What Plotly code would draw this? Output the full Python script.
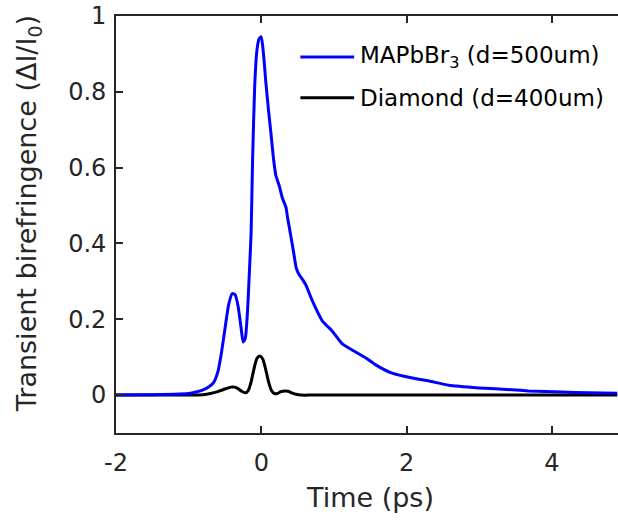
import plotly.graph_objects as go

# ---- data ----
t_mapbbr = [-2.0, -1.5, -1.2, -1.0, -0.9, -0.8, -0.72, -0.66, -0.6, -0.55, -0.5, -0.45,
            -0.4, -0.36, -0.32, -0.28, -0.25, -0.22, -0.19, -0.165, -0.14, -0.12, -0.09,
            -0.06, -0.03, 0.0, 0.03, 0.065, 0.10, 0.133, 0.17, 0.20, 0.25, 0.29, 0.34,
            0.36, 0.41, 0.45, 0.48, 0.52, 0.55, 0.61, 0.70, 0.84, 0.98, 1.11, 1.25, 1.44,
            1.58, 1.80, 2.08, 2.31, 2.58, 3.0, 3.45, 3.68, 4.14, 4.5, 4.9]
v_mapbbr = [0.0, 0.001, 0.002, 0.004, 0.008, 0.014, 0.022, 0.032, 0.06, 0.11, 0.175, 0.238,
            0.268, 0.265, 0.235, 0.18, 0.14, 0.15, 0.22, 0.32, 0.43, 0.62, 0.82,
            0.91, 0.94, 0.945, 0.90, 0.82, 0.75, 0.69, 0.62, 0.58, 0.55, 0.52, 0.495,
            0.47, 0.416, 0.37, 0.336, 0.318, 0.31, 0.292, 0.25, 0.196, 0.168, 0.136, 0.119, 0.098,
            0.079, 0.058, 0.045, 0.037, 0.026, 0.019, 0.014, 0.011, 0.008, 0.006, 0.005]

t_diamond = [-2.0, -1.0, -0.8, -0.7, -0.6, -0.5, -0.42, -0.37, -0.32, -0.27, -0.22, -0.18,
             -0.14, -0.10, -0.06, -0.02, 0.02, 0.06, 0.10, 0.14, 0.18, 0.22, 0.27, 0.32,
             0.37, 0.42, 0.48, 0.55, 0.7, 1.0, 2.0, 3.0, 4.9]
v_diamond = [0.0, 0.0, 0.001, 0.004, 0.009, 0.016, 0.021, 0.021, 0.017, 0.01, 0.006, 0.012,
             0.035, 0.07, 0.097, 0.103, 0.095, 0.068, 0.035, 0.012, 0.004, 0.004, 0.009, 0.011,
             0.01, 0.006, 0.002, 0.0, 0.0, 0.0, 0.0, 0.0, 0.0]

x_ticks = [-2, 0, 2, 4]
y_ticks = [0, 0.2, 0.4, 0.6, 0.8, 1]
y_ticklabels = ["0", "0.2", "0.4", "0.6", "0.8", "1"]
legend_names = ["MAPbBr<sub>3</sub> (d=500um)", "Diamond (d=400um)"]
colors = ["#0000FF", "#000000"]

FONT = "DejaVu Sans"
TXT = "#262626"

fig = go.Figure()
fig.add_trace(go.Scatter(x=t_diamond, y=v_diamond, mode="lines",
                         line=dict(color=colors[1], width=3, shape="spline", smoothing=0.6),
                         showlegend=False))
fig.add_trace(go.Scatter(x=t_mapbbr, y=v_mapbbr, mode="lines",
                         line=dict(color=colors[0], width=3, shape="spline", smoothing=0.5),
                         showlegend=False))

axis_common = dict(showgrid=False, zeroline=False, showline=True, linecolor=TXT, linewidth=1.8,
                   ticks="inside", ticklen=7, tickwidth=1.5, tickcolor=TXT,
                   tickfont=dict(family=FONT, size=24, color=TXT))

fig.update_xaxes(range=[-2, 4.91], tickvals=x_ticks, ticktext=[str(v) for v in x_ticks],
                 mirror="ticks", ticklabelstandoff=7, **axis_common)
fig.update_yaxes(range=[-0.1, 1.0], tickvals=y_ticks, ticktext=y_ticklabels,
                 mirror=False, ticklabelstandoff=3, **axis_common)

# manual legend (top right)
leg_y = [0.9017, 0.8037]
for i, name in enumerate(legend_names):
    fig.add_shape(type="line", xref="paper", yref="paper", x0=0.3673, x1=0.4744,
                  y0=leg_y[i], y1=leg_y[i], line=dict(color=colors[i], width=3))
    fig.add_annotation(xref="paper", yref="paper", x=0.482, y=leg_y[i], text=name,
                       showarrow=False, xanchor="left", yanchor="middle",
                       font=dict(family=FONT, size=23, color="#000000"))

# axis titles
fig.add_annotation(xref="paper", yref="paper", x=0.506, y=-0.155, text="Time (ps)",
                   showarrow=False, xanchor="center", yanchor="middle",
                   font=dict(family=FONT, size=27, color=TXT))
fig.add_annotation(xref="paper", yref="paper", x=-0.175, y=0.525,
                   text="Transient birefringence (\u0394I/I<sub>0</sub>)", textangle=-90,
                   showarrow=False, xanchor="center", yanchor="middle",
                   font=dict(family=FONT, size=27, color=TXT))

fig.update_layout(width=618, height=525, margin=dict(l=116, r=0, t=16, b=92),
                  paper_bgcolor="white", plot_bgcolor="white", showlegend=False)

fig.write_html("out.html")
